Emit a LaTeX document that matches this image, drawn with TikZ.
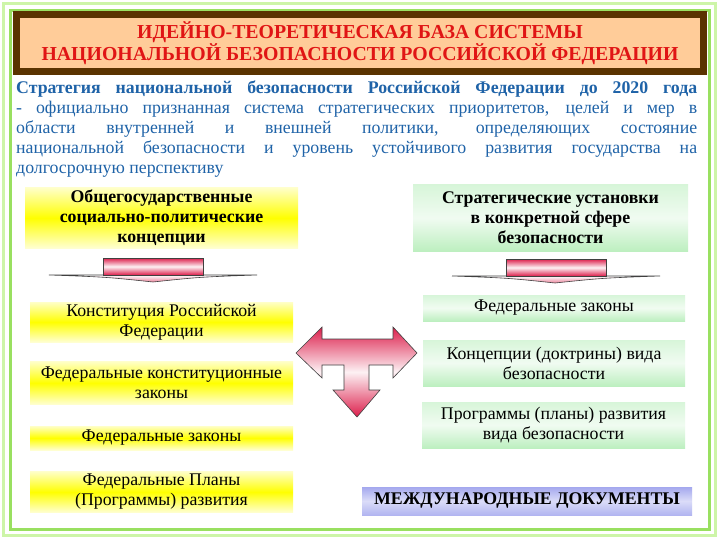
\documentclass[tikz,border=0pt]{standalone}
\usepackage{fontspec}
\setmainfont{Liberation Serif}
\definecolor{titlered}{HTML}{E01515}
\definecolor{peach}{HTML}{FFCC99}
\definecolor{brownfr}{HTML}{5A3300}
\definecolor{textblue}{HTML}{1F63A8}
\definecolor{framegreen}{HTML}{99E060}
\definecolor{framelight}{HTML}{CDF5A8}
\definecolor{crimson}{HTML}{DC1E4B}
\definecolor{mint}{HTML}{BDEFC0}
\definecolor{lav}{HTML}{A4A8EE}
\newcommand{\bxfnt}{\fontsize{17.8}{20}\selectfont}
\tikzset{
  ybox/.style={font=\bxfnt, top color=yellow!22, bottom color=yellow!18, middle color=yellow,
    align=center, inner sep=0pt, text=black},
  gbox/.style={font=\bxfnt, top color=mint!60, bottom color=mint, middle color=mint!22,
    align=center, inner sep=0pt, text=black},
  lbox/.style={font=\bxfnt, top color=lav, bottom color=lav!85, middle color=lav!40,
    align=center, inner sep=0pt, text=black},
  boldtext/.style={font=\bxfnt\bfseries},
  pinkfill/.style={top color=crimson, bottom color=crimson, middle color=crimson!6},
  headfill/.style={top color=white, bottom color=crimson!55},
  outl/.style={draw=black!75, line width=0.6pt},
}
\begin{document}
\begin{tikzpicture}[x=1pt,y=-1pt]
\useasboundingbox (0,0) rectangle (720,540);
\fill[white] (0,0) rectangle (720,540);
% frames
\draw[framelight, line width=3.5pt] (3.5,3.5) rectangle (715.5,535.5);
\draw[framegreen, line width=3pt] (10.5,10.5) rectangle (709.5,529.5);
% title
\node[draw=brownfr, line width=7pt, fill=peach, minimum width=687pt, minimum height=57pt,
  inner sep=0pt, align=center, text=titlered, font=\bfseries\fontsize{19.8}{22}\selectfont]
  (title) at (360,43) {ИДЕЙНО-ТЕОРЕТИЧЕСКАЯ БАЗА СИСТЕМЫ\\НАЦИОНАЛЬНОЙ БЕЗОПАСНОСТИ РОССИЙСКОЙ ФЕДЕРАЦИИ};
% paragraph
\node[anchor=north west, inner sep=0pt, text width=681pt, align=justify, text=textblue,
  font=\fontsize{17.8}{20}\selectfont] (para) at (16,80.5)
  {\textbf{Стратегия национальной безопасности Российской Федерации до 2020 года}\linebreak
   - официально признанная система стратегических приоритетов, целей и мер в\linebreak
   области внутренней и внешней политики, определяющих состояние\linebreak
   национальной безопасности и уровень устойчивого развития государства на\linebreak
   долгосрочную перспективу};
% left column
\node[ybox, boldtext, minimum width=273pt, minimum height=60pt] (l1) at (161.5,218)
  {Общегосударственные\\социально-политические\\концепции};
\node[ybox, minimum width=263pt, minimum height=40pt] (l2) at (161.5,322)
  {Конституция Российской\\Федерации};
\node[ybox, minimum width=263pt, minimum height=43pt] (l3) at (161.5,383)
  {Федеральные конституционные\\законы};
\node[ybox, minimum width=263pt, minimum height=24pt] (l4) at (161.5,438)
  {Федеральные законы};
\node[ybox, minimum width=263pt, minimum height=41pt] (l5) at (161.5,492)
  {Федеральные Планы\\(Программы) развития};
% right column
\node[gbox, boldtext, minimum width=275pt, minimum height=66pt] (r1) at (550.5,218)
  {Стратегические установки\\в конкретной сфере\\безопасности};
\node[gbox, minimum width=262pt, minimum height=26pt] (r2) at (554,308)
  {Федеральные законы};
\node[gbox, minimum width=262pt, minimum height=46pt] (r3) at (554,363)
  {Концепции (доктрины) вида\\безопасности};
\node[gbox, minimum width=263pt, minimum height=46pt] (r4) at (553.5,425)
  {Программы (планы) развития\\вида безопасности};
\node[lbox, boldtext, minimum width=330pt, minimum height=28pt] (r5) at (527,501)
  {МЕЖДУНАРОДНЫЕ ДОКУМЕНТЫ};
% left down arrow
\draw[outl, headfill] (49,275) -- (257,275) .. controls (200,277) .. (153,282) .. controls (106,277) .. (49,275) -- cycle;
\draw[outl, pinkfill] (103,258) rectangle (203,275);
% right down arrow
\draw[outl, headfill] (452,276) -- (660,276) .. controls (603,278) .. (555,283) .. controls (508,278) .. (452,276) -- cycle;
\draw[outl, pinkfill] (506,259) rectangle (606,276);
% T arrow
\draw[outl, pinkfill] (296,353) -- (322,327) -- (322,339) -- (393,339) -- (393,327) -- (417,353)
  -- (393,378) -- (393,365) -- (369,365) -- (369,390) -- (380,390) -- (357,417) -- (333,390)
  -- (344,390) -- (344,365) -- (322,365) -- (322,378) -- cycle;
\end{tikzpicture}
\end{document}
